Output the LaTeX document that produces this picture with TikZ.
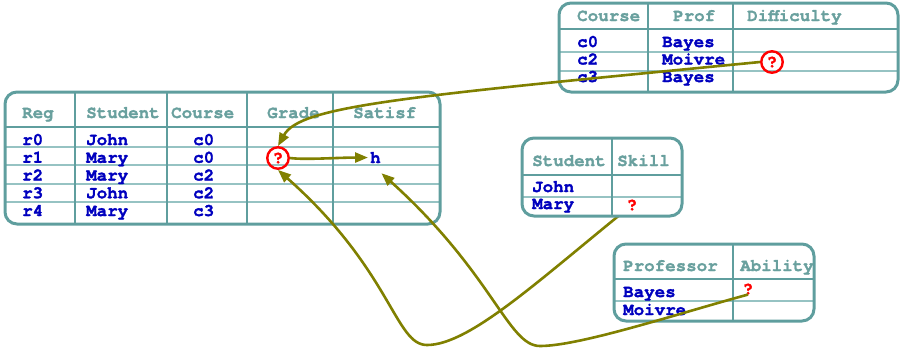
\documentclass[tikz,border=0pt]{standalone}
\usepackage{fontspec}
\setmainfont{TeX Gyre Cursor}[BoldFeatures={FakeBold=1.6}]
\usetikzlibrary{arrows.meta}
\definecolor{frame}{RGB}{95,158,158}
\definecolor{rowline}{RGB}{150,195,195}
\definecolor{headtext}{RGB}{105,160,158}
\definecolor{celltext}{RGB}{0,0,190}
\definecolor{olivewire}{RGB}{128,128,0}
\definecolor{query}{RGB}{255,0,0}
\begin{document}
\begin{tikzpicture}[x=1pt,y=-1pt,
  txt/.style={font=\fontsize{17.5}{20}\selectfont\bfseries, inner sep=0pt, anchor=base west},
  head/.style={txt, text=headtext},
  cell/.style={txt, text=celltext},
  qmark/.style={txt, text=query, anchor=center},
  ring/.style={draw=query, line width=2.4pt, circle, minimum size=21.5pt},
  outer/.style={draw=frame, line width=3pt, rounded corners=12pt},
  colline/.style={draw=frame, line width=2.3pt},
  headline/.style={draw=frame, line width=2pt},
  rowsep/.style={draw=rowline, line width=1.3pt},
  wire/.style={draw=olivewire, line width=2.6pt, -{Triangle[length=13pt,width=10pt]}},
]
\useasboundingbox (0,0) rectangle (900,349);

% Registration table
\foreach \y in {147,165,184,202} \draw[rowsep] (5,\y) -- (440,\y);
\draw[headline] (5,127) -- (440,127);
\foreach \x in {75,167,247,333} \draw[colline] (\x,92) -- (\x,224);
\draw[outer] (5,92) rectangle (440,224);
\node[head] (reg-h1) at (22,118) {Reg};
\node[head] (reg-h2) at (86,118) {Student};
\node[head] (reg-h3) at (171,118) {Course};
\node[head] (reg-h4) at (267,118) {Grade};
\node[head] (reg-h5) at (353,118) {Satisf};
\foreach \r/\s/\c [count=\i from 0] in {r0/John/c0, r1/Mary/c0, r2/Mary/c2, r3/John/c2, r4/Mary/c3} {
  \node[cell] (reg-r\i) at (22,{145+17.75*\i}) {\r};
  \node[cell] (reg-s\i) at (86,{145+17.75*\i}) {\s};
  \node[cell] (reg-c\i) at (193,{145+17.75*\i}) {\c};
}
\node[qmark,ring] (gradeq) at (278,158) {?};
\node[cell] (hq) at (370,163) {h};

% Course table
\foreach \y in {52,71} \draw[rowsep] (559,\y) -- (898,\y);
\draw[headline] (559,29) -- (898,29);
\foreach \x in {648,733} \draw[colline] (\x,3) -- (\x,92);
\draw[outer] (559,3) rectangle (898,92);
\node[head] (crs-h1) at (577,21) {Course};
\node[head] (crs-h2) at (673,21) {Prof};
\node[head] (crs-h3) at (747,21) {Difficulty};
\foreach \c/\p [count=\i from 0] in {c0/Bayes, c2/Moivre, c3/Bayes} {
  \node[cell] (crs-c\i) at (577,{47+17.5*\i}) {\c};
  \node[cell] (crs-p\i) at (662,{47+17.5*\i}) {\p};
}
\node[qmark,ring] (diffq) at (772,62) {?};

% Professor table
\draw[rowsep] (614,301) -- (814,301);
\draw[headline] (614,279) -- (814,279);
\draw[colline] (733,244) -- (733,321);
\draw[outer] (614,244) rectangle (814,321);
\node[head] (prof-h1) at (623,271) {Professor};
\node[head] (prof-h2) at (740,271) {Ability};
\node[cell] (prof-b) at (623,297) {Bayes};
\node[cell] (prof-m) at (623,315) {Moivre};
\node[qmark] (abilq) at (748,289) {?};

% Skill link runs underneath the student table
\coordinate (skillq) at (632,205);
\draw[wire] (skillq) .. controls +(-92,74) and +(43,0) .. (427,345)
  .. controls +(-32,0) and +(114,101) .. (gradeq.south);

% Student table
\fill[white, rounded corners=12pt] (522,138) rectangle (682,216);
\draw[rowsep] (522,197) -- (682,197);
\draw[headline] (522,175) -- (682,175);
\draw[colline] (612,138) -- (612,216);
\draw[outer] (522,138) rectangle (682,216);
\node[head] (stu-h1) at (532,166) {Student};
\node[head] (stu-h2) at (617,166) {Skill};
\node[cell] (stu-j) at (532,192) {John};
\node[cell] (stu-m) at (532,209) {Mary};
\node[qmark] (skillmark) at (632,205) {?};

% Dependency links
\draw[wire] (diffq.west) .. controls +(-360,35) and +(22,-40) .. (gradeq.north);
\draw[wire] (gradeq.east) .. controls +(15,2) and +(-30,0) .. ([xshift=-2pt]hq.west);
\draw[wire] (abilq.south) .. controls +(-70,19) and +(40,0) .. (540,346)
  .. controls +(-32,0) and +(112,101) .. ([xshift=6pt,yshift=-10pt]hq.south);
\end{tikzpicture}
\end{document}
